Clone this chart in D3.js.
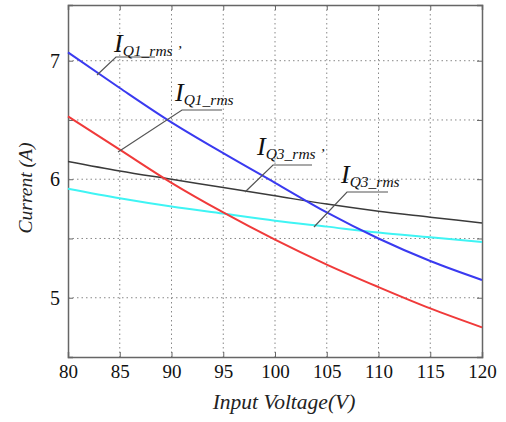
<!DOCTYPE html>
<html><head><meta charset="utf-8">
<script src="https://cdn.jsdelivr.net/npm/d3@7"></script>
<style>body{margin:0;background:#fff}svg{display:block}</style>
</head><body>
<script>
const voltage = [80, 85, 90, 95, 100, 105, 110, 115, 120];
const iQ1p = [7.07, 6.77, 6.48, 6.22, 5.97, 5.72, 5.50, 5.31, 5.15];
const iQ1  = [6.53, 6.25, 5.97, 5.72, 5.49, 5.28, 5.09, 4.91, 4.75];
const iQ3p = [6.15, 6.07, 6.00, 5.93, 5.86, 5.79, 5.73, 5.68, 5.63];
const iQ3  = [5.92, 5.84, 5.77, 5.71, 5.65, 5.60, 5.55, 5.51, 5.47];
const xTicks = [80, 85, 90, 95, 100, 105, 110, 115, 120];
const yGrid = [5, 5.5, 6, 6.5, 7];
const yLabels = [5, 6, 7];

const W = 506, H = 422;
const svg = d3.select("body").append("svg").attr("width", W).attr("height", H);
const L = 68, R = 482, T = 5, B = 357;
const x = d3.scaleLinear().domain([80, 120]).range([L, R]);
const y = d3.scaleLinear().domain([4.5, 7.47]).range([B, T]);
const serif = "'Liberation Serif','Times New Roman',serif";

// grid
svg.append("g").selectAll("line").data(xTicks.slice(1, -1)).join("line")
  .attr("x1", d => x(d)).attr("x2", d => x(d)).attr("y1", T).attr("y2", B)
  .attr("stroke", "#888").attr("stroke-width", 1).attr("stroke-dasharray", "1.5,3");
svg.append("g").selectAll("line").data(yGrid).join("line")
  .attr("x1", L).attr("x2", R).attr("y1", d => y(d)).attr("y2", d => y(d))
  .attr("stroke", "#888").attr("stroke-width", 1).attr("stroke-dasharray", "1.5,3");

// axes
const xa = svg.append("g").attr("transform", `translate(0,${B})`)
  .call(d3.axisBottom(x).tickValues(xTicks).tickSize(-5).tickPadding(8));
const xaTop = svg.append("g").attr("transform", `translate(0,${T})`)
  .call(d3.axisTop(x).tickValues(xTicks).tickSize(-5).tickFormat(""));
const ya = svg.append("g").attr("transform", `translate(${L},0)`)
  .call(d3.axisLeft(y).tickValues(yGrid).tickSize(-5).tickPadding(8)
    .tickFormat(d => yLabels.includes(d) ? d3.format("d")(d) : ""));
const yaR = svg.append("g").attr("transform", `translate(${R},0)`)
  .call(d3.axisRight(y).tickValues(yGrid).tickSize(-5).tickFormat(""));
[xa, xaTop, ya, yaR].forEach(g => {
  g.select(".domain").attr("stroke", "#666").attr("stroke-width", 1.5);
  g.selectAll(".tick line").attr("stroke", "#666");
  g.selectAll("text").attr("font-family", serif).attr("fill", "#111");
});
xa.selectAll("text").attr("font-size", 19);
ya.selectAll("text").attr("font-size", 20);

// lines
const line = d3.line().x((d, i) => x(voltage[i])).y(d => y(d)).curve(d3.curveMonotoneX);
const series = [
  {v: iQ3p, c: "#3a3a3a", w: 1.5},
  {v: iQ3, c: "#3ff4f4", w: 2},
  {v: iQ1, c: "#f03a3a", w: 2},
  {v: iQ1p, c: "#3a3af0", w: 2},
];
svg.append("g").selectAll("path").data(series).join("path")
  .attr("d", d => line(d.v)).attr("fill", "none")
  .attr("stroke", d => d.c).attr("stroke-width", d => d.w);

// annotations
const ann = [
  {sub: "Q1_rms", prime: true, tx: 114, ty: 52, lx1: 116, lx2: 155, ly: 57, px: 97, py: 75},
  {sub: "Q1_rms", prime: false, tx: 175, ty: 101, lx1: 182, lx2: 222, ly: 110, px: 118, py: 152},
  {sub: "Q3_rms", prime: true, tx: 257, ty: 155, lx1: 273, lx2: 312, ly: 165, px: 245, py: 192},
  {sub: "Q3_rms", prime: false, tx: 341, ty: 183, lx1: 347, lx2: 388, ly: 192, px: 314, py: 227},
];
const ag = svg.append("g");
ann.forEach(a => {
  ag.append("polyline").attr("points", `${a.px},${a.py} ${a.lx1},${a.ly} ${a.lx2},${a.ly}`)
    .attr("fill", "none").attr("stroke", "#555").attr("stroke-width", 1.2);
  const t = ag.append("text").attr("x", a.tx).attr("y", a.ty)
    .attr("font-family", serif).attr("font-style", "italic").attr("fill", "#111");
  t.append("tspan").attr("font-size", 26).text("I");
  t.append("tspan").attr("font-size", 15.5).attr("dy", 4).text(a.sub + (a.prime ? " \u2019" : ""));
});

// titles
svg.append("text").attr("x", 284).attr("y", 409).attr("text-anchor", "middle")
  .attr("font-family", serif).attr("font-style", "italic").attr("font-size", 21.5)
  .attr("fill", "#222").text("Input Voltage(V)");
svg.append("text").attr("transform", "translate(32,188) rotate(-90)").attr("text-anchor", "middle")
  .attr("font-family", serif).attr("font-style", "italic").attr("font-size", 19.5)
  .attr("fill", "#222").text("Current (A)");
</script>
</body></html>
